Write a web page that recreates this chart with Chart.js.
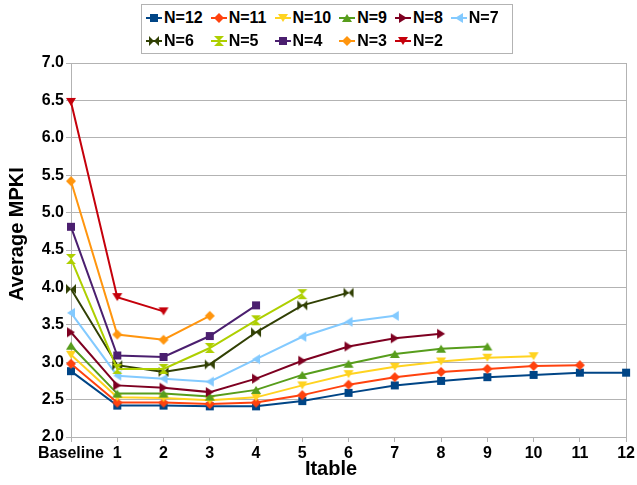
<!DOCTYPE html>
<html>
<head>
<meta charset="utf-8">
<script src="https://cdn.jsdelivr.net/npm/chart.js@4.4.1/dist/chart.umd.min.js"></script>
<style>
  body { margin: 0; background: #fff; }
  #wrap { position: relative; width: 637px; height: 485px; }
  #legend {
    position: absolute; left: 141px; top: 4px; width: 366px; height: 46px;
    border: 1px solid #b3b3b3; background: #fff;
    display: grid; grid-template-columns: repeat(6, auto); justify-content: start;
    column-gap: 8px; padding: 2px 0 0 4px;
    font: bold 16px "Liberation Sans", Arial, sans-serif; color: #000;
  }
  .item { display: flex; align-items: center; height: 22px; }
  .item canvas { margin-right: 2px; }
</style>
</head>
<body>
<div id="wrap">
  <canvas id="myChart" width="637" height="485"></canvas>
  <div id="legend"></div>
</div>
<script>
// categories
const itable = ['Baseline', '1', '2', '3', '4', '5', '6', '7', '8', '9', '10', '11', '12'];

// series (Average MPKI)
const n12 = [2.88, 2.42, 2.42, 2.41, 2.41, 2.48, 2.59, 2.69, 2.75, 2.80, 2.83, 2.86, 2.86];
const n11 = [2.98, 2.46, 2.46, 2.44, 2.46, 2.56, 2.70, 2.80, 2.87, 2.91, 2.95, 2.96];
const n10 = [3.10, 2.53, 2.52, 2.49, 2.53, 2.69, 2.84, 2.94, 3.01, 3.06, 3.08];
const n9  = [3.22, 2.58, 2.58, 2.54, 2.63, 2.83, 2.98, 3.11, 3.18, 3.21];
const n8  = [3.40, 2.69, 2.66, 2.60, 2.78, 3.02, 3.21, 3.32, 3.38];
const n7  = [3.66, 2.82, 2.78, 2.74, 3.04, 3.34, 3.54, 3.62];
const n6  = [3.98, 2.96, 2.87, 2.97, 3.40, 3.76, 3.93];
const n5  = [4.38, 2.91, 2.91, 3.19, 3.56, 3.91];
const n4  = [4.81, 3.09, 3.07, 3.35, 3.76];
const n3  = [5.42, 3.37, 3.30, 3.62];
const n2  = [6.48, 3.87, 3.68];

const names  = ['N=12', 'N=11', 'N=10', 'N=9', 'N=8', 'N=7', 'N=6', 'N=5', 'N=4', 'N=3', 'N=2'];
const values = [n12, n11, n10, n9, n8, n7, n6, n5, n4, n3, n2];
const colors = ['#004586', '#ff420e', '#ffd320', '#579d1c', '#7e0021', '#83caff',
                '#314004', '#aecf00', '#4b1f6f', '#ff950e', '#c5000b'];
const marks  = ['square', 'diamond', 'triDown', 'triUp', 'triRight', 'triLeft',
                'bowtie', 'hourglass', 'square', 'diamond', 'triDown'];

const xTitle = 'Itable';
const yTitle = 'Average MPKI';

const fontFam = '"Liberation Sans", Arial, sans-serif';

// marker shapes
function shape(g, kind, x, y) {
  g.beginPath();
  if (kind == 'square') {
    g.rect(x - 4, y - 4, 8, 8);
  } else if (kind == 'diamond') {
    g.moveTo(x, y - 5); g.lineTo(x + 5, y); g.lineTo(x, y + 5); g.lineTo(x - 5, y);
  } else if (kind == 'triDown') {
    g.moveTo(x - 5, y - 4); g.lineTo(x + 5, y - 4); g.lineTo(x, y + 4);
  } else if (kind == 'triUp') {
    g.moveTo(x - 5, y + 4); g.lineTo(x + 5, y + 4); g.lineTo(x, y - 4);
  } else if (kind == 'triRight') {
    g.moveTo(x - 4, y - 5); g.lineTo(x - 4, y + 5); g.lineTo(x + 4, y);
  } else if (kind == 'triLeft') {
    g.moveTo(x + 4, y - 5); g.lineTo(x + 4, y + 5); g.lineTo(x - 4, y);
  } else if (kind == 'bowtie') {
    g.moveTo(x - 5, y - 5); g.lineTo(x - 5, y + 5); g.lineTo(x, y);
    g.moveTo(x + 5, y - 5); g.lineTo(x + 5, y + 5); g.lineTo(x, y);
  } else if (kind == 'hourglass') {
    g.moveTo(x - 5, y - 5); g.lineTo(x + 5, y - 5); g.lineTo(x, y);
    g.moveTo(x - 5, y + 5); g.lineTo(x + 5, y + 5); g.lineTo(x, y);
  }
  g.closePath();
  g.fill();
}

function markerCanvas(kind, color) {
  const c = document.createElement('canvas');
  c.width = 12; c.height = 12;
  const g = c.getContext('2d');
  g.fillStyle = color;
  shape(g, kind, 6, 6);
  return c;
}

// html legend
const legend = document.getElementById('legend');
names.forEach((nm, i) => {
  const item = document.createElement('div');
  item.className = 'item';
  const c = document.createElement('canvas');
  c.width = 16; c.height = 12;
  const g = c.getContext('2d');
  g.strokeStyle = colors[i]; g.lineWidth = 2;
  g.beginPath(); g.moveTo(0, 6); g.lineTo(16, 6); g.stroke();
  g.fillStyle = colors[i];
  shape(g, marks[i], 8, 6);
  item.appendChild(c);
  item.appendChild(document.createTextNode(nm));
  legend.appendChild(item);
});

// axis titles sit a bit off-centre in the original, so draw them here
const axisTitles = {
  id: 'axisTitles',
  afterDraw(chart) {
    const g = chart.ctx;
    g.save();
    g.fillStyle = '#000';
    g.font = 'bold 20px ' + fontFam;
    g.textAlign = 'center';
    g.textBaseline = 'middle';
    g.fillText(xTitle, 331, 469);
    g.translate(17, 234);
    g.rotate(-Math.PI / 2);
    g.fillText(yTitle, 0, 0);
    g.restore();
  }
};

const datasets = names.map((nm, i) => ({
  label: nm,
  data: values[i],
  borderColor: colors[i],
  backgroundColor: colors[i],
  borderWidth: 2,
  pointStyle: markerCanvas(marks[i], colors[i]),
  pointRadius: 5,
  tension: 0,
  order: 11 - i
}));

const ctx = document.getElementById('myChart').getContext('2d');
const chart = new Chart(ctx, {
  type: 'line',
  data: { labels: itable, datasets: datasets },
  plugins: [axisTitles],
  options: {
    responsive: false,
    animation: false,
    devicePixelRatio: 1,
    layout: { padding: { top: 63, right: 10, left: 0, bottom: 0 } },
    plugins: { legend: { display: false }, tooltip: { enabled: false } },
    scales: {
      x: {
        offset: false,
        afterFit: s => { s.height = 48; },
        grid: {
          color: c => c.index === 12 ? '#b3b3b3' : 'rgba(0,0,0,0)',
          tickColor: '#b3b3b3',
          tickLength: 5
        },
        border: { color: '#b3b3b3' },
        ticks: { color: '#000', font: { family: fontFam, size: 16, weight: 'bold' },
                 padding: 2, maxRotation: 0, autoSkip: false }
      },
      y: {
        min: 2, max: 7,
        afterFit: s => { s.width = 71; },
        grid: { color: '#b3b3b3', tickColor: '#b3b3b3', tickLength: 5 },
        border: { color: '#b3b3b3' },
        ticks: { stepSize: 0.5, color: '#000', padding: 2,
                 font: { family: fontFam, size: 16, weight: 'bold' },
                 callback: v => v.toFixed(1) }
      }
    }
  }
});
</script>
</body>
</html>
